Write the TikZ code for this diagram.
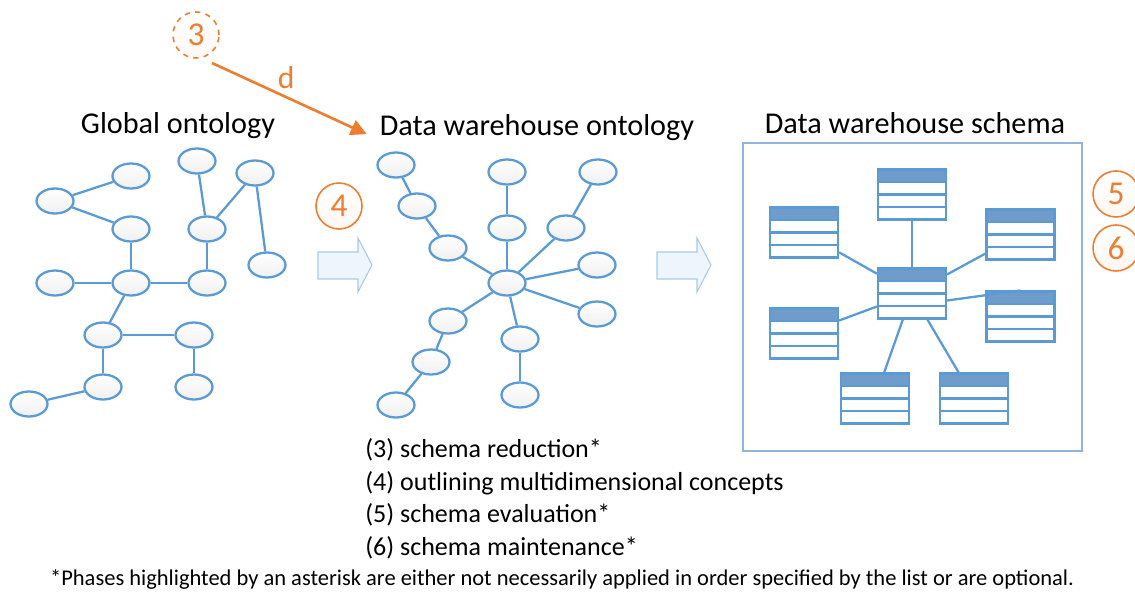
\documentclass[tikz,border=0pt]{standalone}
\usepackage{fontspec}
\setmainfont{Carlito}
\usetikzlibrary{shapes.geometric, arrows.meta, positioning, calc, backgrounds}
\definecolor{cLine}{RGB}{91,155,213}
\definecolor{cHead}{RGB}{112,156,204}
\definecolor{cFrame}{RGB}{143,180,222}
\definecolor{cOrange}{RGB}{237,125,49}
\definecolor{cPale}{RGB}{238,245,252}
\definecolor{cPaleEdge}{RGB}{168,202,234}
\tikzset{
	onode/.style   ={ellipse, draw=cLine, line width=1.3pt, top color=white, bottom color=black!6, minimum width=0.74cm, minimum height=0.5cm, inner sep=0pt},
	olink/.style   ={draw=cLine, line width=1.3pt},
	% star schema tables
	dwtable/.style ={rectangle, draw=cLine, line width=1.2pt, fill=white, minimum width=1.36cm, minimum height=1cm, inner sep=0pt,
		path picture={
			\fill[cHead] (path picture bounding box.north west) rectangle ([yshift=-0.25cm]path picture bounding box.north east);
			\draw[cLine, line width=1.2pt] ([yshift=-0.25cm]path picture bounding box.north west) -- ([yshift=-0.25cm]path picture bounding box.north east);
			\draw[cLine, line width=1.2pt] ([yshift=-0.5cm]path picture bounding box.north west) -- ([yshift=-0.5cm]path picture bounding box.north east);
			\draw[cLine, line width=1.2pt] ([yshift=-0.75cm]path picture bounding box.north west) -- ([yshift=-0.75cm]path picture bounding box.north east);
		}},
	phase/.style   ={circle, draw=cOrange, line width=0.9pt, text=cOrange, top color=white, bottom color=cOrange!6, minimum size=0.92cm, inner sep=0pt, font=\fontsize{19}{19}\selectfont},
	blockarrow/.style={draw=cPaleEdge, fill=cPale, line width=0.6pt},
	title/.style   ={font=\fontsize{17.2}{19}\selectfont},
	listline/.style={anchor=base west, inner sep=0pt, font=\fontsize{14.8}{17}\selectfont},
}

\begin{document}
\begin{tikzpicture}[x=0.02cm, y=-0.02cm]
	\useasboundingbox (0,0) rectangle (1135,592);
	\clip (0,0) rectangle (1135,592);

	% titles
	\node[title, anchor=base] (tglobal) at (178,133) {Global ontology};
	\node[title, anchor=base] (tdwo) at (537,135) {Data warehouse ontology};
	\node[title, anchor=base] (tdws) at (915,133) {Data warehouse schema};

	% global ontology
	\node[onode] (g1) at (55,201) {};   \node[onode] (g2) at (131,176) {};  \node[onode] (g3) at (131,229) {};
	\node[onode] (g4) at (197,161) {};  \node[onode] (g5) at (255,173) {};  \node[onode] (g6) at (207,229) {};
	\node[onode] (g7) at (267,265) {};  \node[onode] (g8) at (55,283) {};   \node[onode] (g9) at (131,283) {};
	\node[onode] (g10) at (207,283) {}; \node[onode] (g11) at (103,335) {}; \node[onode] (g12) at (194,335) {};
	\node[onode] (g13) at (103,387) {}; \node[onode] (g14) at (194,387) {}; \node[onode] (g15) at (29,404) {};
	\draw[olink](g1)--(g2); \draw[olink](g1)--(g3); \draw[olink](g3)--(g9); \draw[olink](g8)--(g9);
	\draw[olink](g9)--(g10); \draw[olink](g10)--(g6); \draw[olink](g6)--(g4); \draw[olink](g6)--(g5);
	\draw[olink](g5)--(g7); \draw[olink](g9)--(g11); \draw[olink](g11)--(g12); \draw[olink](g12)--(g14);
	\draw[olink](g11)--(g13); \draw[olink](g13)--(g15);

	% data warehouse ontology
	\node[onode] (dc) at (507,283) {};
	\node[onode] (d1) at (396,165) {};  \node[onode] (d2) at (417,206) {};  \node[onode] (d3) at (448,248) {};
	\node[onode] (d4) at (507,172) {};  \node[onode] (d5) at (507,228) {};  \node[onode] (d6) at (598,172) {};
	\node[onode] (d7) at (566,228) {};  \node[onode] (d8) at (597,265) {};  \node[onode] (d9) at (597,314) {};
	\node[onode] (d10) at (448,321) {}; \node[onode] (d11) at (431,362) {}; \node[onode] (d12) at (396,405) {};
	\node[onode] (d13) at (520,339) {}; \node[onode] (d14) at (520,395) {};
	\draw[olink](d1)--(d2); \draw[olink](d2)--(d3); \draw[olink](d3)--(dc); \draw[olink](d4)--(d5);
	\draw[olink](d5)--(dc); \draw[olink](d6)--(d7); \draw[olink](d7)--(dc); \draw[olink](d8)--(dc);
	\draw[olink](d9)--(dc); \draw[olink](d10)--(dc); \draw[olink](d10)--(d11); \draw[olink](d11)--(d12);
	\draw[olink](d13)--(dc); \draw[olink](d13)--(d14);

	% data warehouse schema
	\node[draw=cFrame, line width=1pt, minimum width=6.78cm, minimum height=6.16cm, inner sep=0pt] (schemabox) at (912.5,297) {};
	\node[dwtable] (tc) at (912,293.5) {};
	\node[dwtable] (tt) at (912,194.5) {};   \node[dwtable] (tl) at (804,232.5) {};   \node[dwtable] (tr) at (1020.5,234.5) {};
	\node[dwtable] (trm) at (1020.5,316.5) {}; \node[dwtable] (tlb) at (804,333.5) {}; \node[dwtable] (tbl) at (875,398.5) {};
	\node[dwtable] (tbr) at (974,398.5) {};
	\draw[olink](tt)--(tc); \draw[olink](tl)--(tc); \draw[olink](tr)--(tc); \draw[olink](tlb)--(tc);
	\draw[olink](tc)--(tbl); \draw[olink](tc)--(tbr); \draw[olink]([yshift=-0.14cm]tc.east)--(trm.north);

	% block arrows
	\foreach \bx in {318,657}
		\draw[blockarrow] (\bx,252) -- (\bx+40,252) -- (\bx+40,238) -- (\bx+54,265) -- (\bx+40,292) -- (\bx+40,279) -- (\bx,279) -- cycle;

	% phases
	\node[phase, dashed] (p3) at (196,35) {3};
	\node[phase] (p4) at (339,206) {4};
	\node[phase] (p5) at (1116,194) {5};
	\node[phase] (p6) at (1116,248) {6};
	\coordinate (dstart) at (212,63);
	\draw[cOrange, line width=1.5pt, -{Triangle[length=9pt, width=9pt]}] (dstart) -- ([xshift=-4pt, yshift=-4pt]tdwo.west)
		node[pos=0.48, above=1pt, text=cOrange, font=\fontsize{18}{18}\selectfont] (dlabel) {d};

	% list of phases
	\node[listline] (l3) at (365,457) {(3) schema reduction*};
	\node[listline] (l4) at (365,490) {(4) outlining multidimensional concepts};
	\node[listline] (l5) at (365,522) {(5) schema evaluation*};
	\node[listline] (l6) at (365,555) {(6) schema maintenance*};
	\node[anchor=base, inner sep=0pt, font=\fontsize{12.8}{14}\selectfont] (note) at (562,585) {*Phases highlighted by an asterisk are either not necessarily applied in order specified by the list or are optional.};
\end{tikzpicture}
\end{document}
